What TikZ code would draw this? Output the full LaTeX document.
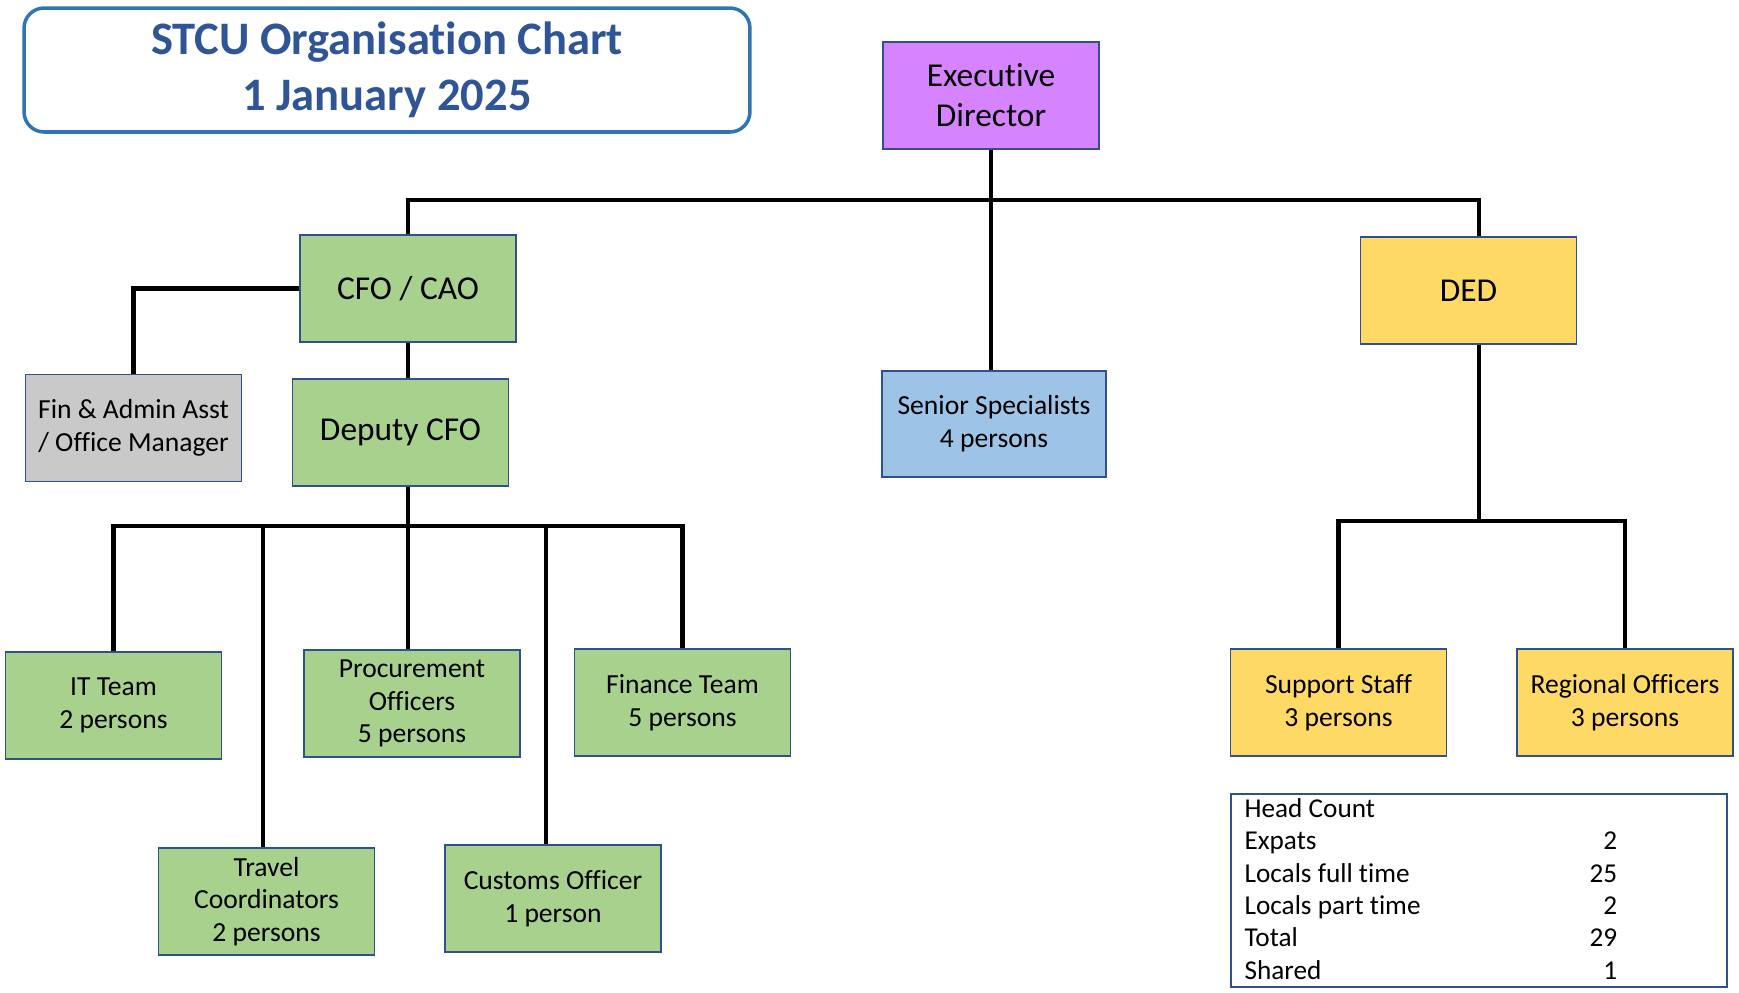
\documentclass[tikz,border=0pt]{standalone}
\usepackage{fontspec}
\setmainfont{Carlito}[Ligatures=NoCommon]
\usepackage{array}
\usepackage{tikz}
\definecolor{edPurple}{RGB}{214,131,255}
\definecolor{cfoGreen}{RGB}{169,209,142}
\definecolor{dedYellow}{RGB}{255,217,102}
\definecolor{specBlue}{RGB}{157,195,230}
\definecolor{asstGrey}{RGB}{201,201,201}
\definecolor{boxEdge}{RGB}{47,82,143}
\definecolor{titleEdge}{RGB}{46,117,182}
\definecolor{titleInk}{RGB}{47,85,151}
\tikzset{
  orgbox/.style={draw=boxEdge,line width=0.9pt,minimum width=4.32cm,minimum height=2.14cm,align=center,inner sep=2pt},
  bigtext/.style={font=\fontsize{19}{22.7}\selectfont},
  smalltext/.style={font=\fontsize{15.7}{18.7}\selectfont},
  link/.style={line width=2.5pt,black},
}

\begin{document}
\begin{tikzpicture}[x=0.02cm,y=-0.02cm]
\useasboundingbox (0,0) rectangle (1739,992);
\node[draw=titleEdge,line width=2pt,rounded corners=0.4cm,minimum width=14.52cm,minimum height=2.48cm,align=center,text=titleInk,font=\bfseries\fontsize{26.5}{32}\selectfont] (title) at (387,70) {STCU Organisation Chart\\1 January 2025};
\node[orgbox,bigtext,fill=edPurple] (ed) at (991,95.5) {Executive\\Director};
\node[orgbox,bigtext,fill=cfoGreen] (cfo) at (408,288.5) {CFO / CAO};
\node[orgbox,bigtext,fill=dedYellow] (ded) at (1468.5,290.5) {DED};
\node[orgbox,smalltext,fill=specBlue,minimum width=4.48cm,minimum height=2.12cm] (senior) at (994,424) {Senior Specialists\\4 persons};
\node[orgbox,smalltext,fill=asstGrey] (asst) at (133.5,428) {Fin \& Admin Asst\\/ Office Manager};
\node[orgbox,bigtext,fill=cfoGreen] (dcfo) at (400.5,432.5) {Deputy CFO};
\node[orgbox,smalltext,fill=cfoGreen] (it) at (113.5,705.5) {IT Team\\2 persons};
\node[orgbox,smalltext,fill=cfoGreen] (travel) at (266.5,901.5) {Travel\\Coordinators\\2 persons};
\node[orgbox,smalltext,fill=cfoGreen] (proc) at (412,703.5) {Procurement\\Officers\\5 persons};
\node[orgbox,smalltext,fill=cfoGreen] (customs) at (553,898.5) {Customs Officer\\1 person};
\node[orgbox,smalltext,fill=cfoGreen] (fin) at (682.5,702.5) {Finance Team\\5 persons};
\node[orgbox,smalltext,fill=dedYellow] (support) at (1338.5,702.5) {Support Staff\\3 persons};
\node[orgbox,smalltext,fill=dedYellow] (regional) at (1625,702.5) {Regional Officers\\3 persons};
\node[draw=boxEdge,line width=0.9pt,minimum width=9.92cm,minimum height=3.86cm] (hc) at (1479,890.5) {};
\node[anchor=west,inner sep=0pt,font=\fontsize{15.5}{18.4}\selectfont] (hctab) at ([xshift=0.28cm,yshift=-0.03cm]hc.west) {%
  \begin{tabular}{@{}p{6.9cm}@{}r@{}}
  Head Count & \\
  Expats & 2\\
  Locals full time & 25\\
  Locals part time & 2\\
  Total & 29\\
  Shared & 1
  \end{tabular}};
\coordinate (dedtap) at (1479,200);
\coordinate (dcfobus) at (408,526);
\coordinate (dedbus) at (1479,521);
\draw[link] (ed.south) -- (ed.south |- senior.north);
\draw[link] (cfo.north) |- (dedtap) -- (dedtap |- ded.north);
\draw[link] (cfo.west) -| (asst.north);
\draw[link] (cfo.south) -- (cfo.south |- dcfo.north);
\draw[link] (cfo.south |- dcfo.south) -- (cfo.south |- proc.north);
\draw[link] (it.north) |- (dcfobus) -| (fin.north);
\draw[link] ([xshift=-0.07cm]travel.north |- dcfobus) -- ([xshift=-0.07cm]travel.north);
\draw[link] ([xshift=-0.14cm]customs.north |- dcfobus) -- ([xshift=-0.14cm]customs.north);
\draw[link] (dedtap |- ded.south) -- (dedbus);
\draw[link] (support.north) |- (dedbus) -| (regional.north);
\end{tikzpicture}
\end{document}
